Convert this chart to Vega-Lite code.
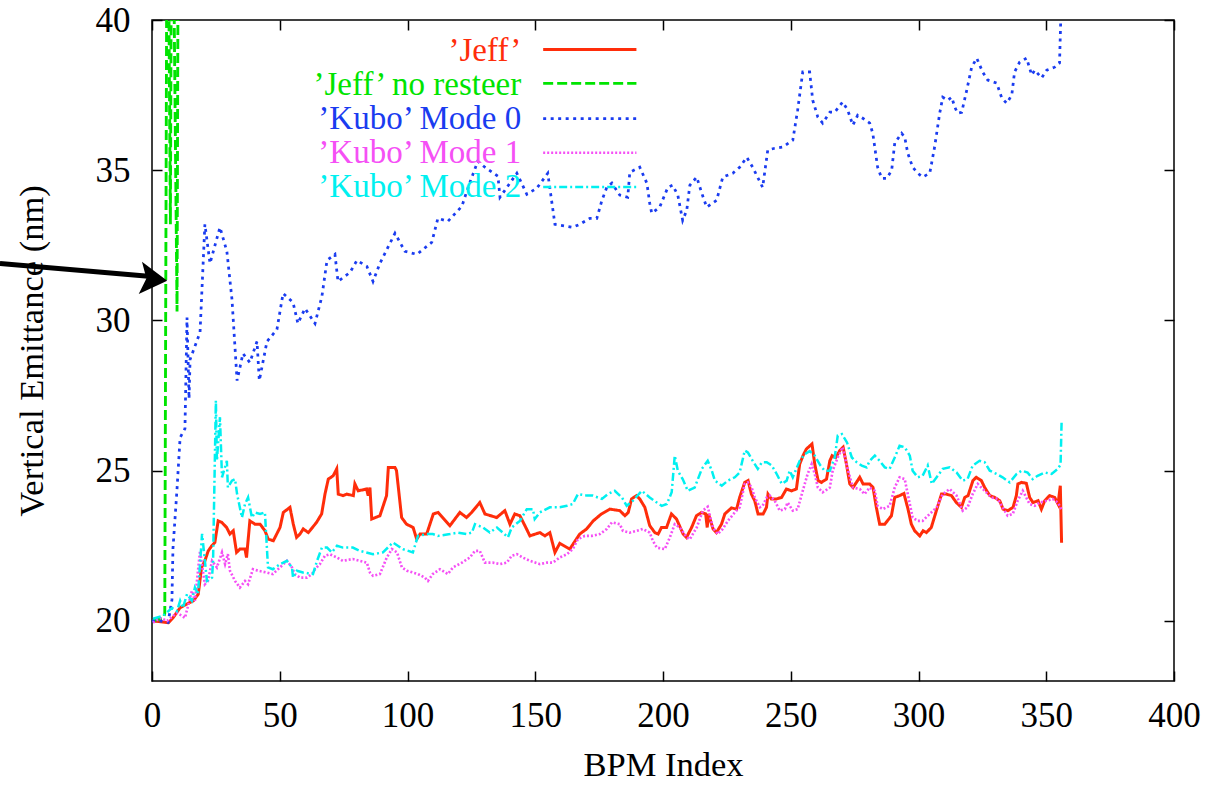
{
  "$schema": "https://vega.github.io/schema/vega-lite/v6.json",
  "width": 1022,
  "height": 661,
  "autosize": {"type": "none"},
  "padding": {"left": 152, "top": 20, "right": 37, "bottom": 104},
  "background": "white",
  "config": {
    "view": {"stroke": "black", "strokeWidth": 1.5},
    "font": "Liberation Serif",
    "axis": {"grid": false, "domain": false, "labelFont": "Liberation Serif", "titleFont": "Liberation Serif", "labelColor": "black", "titleColor": "black", "tickColor": "black", "tickWidth": 1.5, "titleFontWeight": "normal"}
  },
  "datasets": {
    "curves": [
      {"s":"J","x":0.5,"y":20.0},{"s":"J","x":6.4,"y":19.94},{"s":"J","x":8.3,"y":20.11},{"s":"J","x":11.0,"y":20.44},{"s":"J","x":13.6,"y":20.56},{"s":"J","x":16.2,"y":20.67},{"s":"J","x":18.1,"y":20.89},{"s":"J","x":19.4,"y":21.78},{"s":"J","x":20.7,"y":22.0},{"s":"J","x":22.0,"y":22.33},{"s":"J","x":23.4,"y":22.5},{"s":"J","x":24.6,"y":22.61},{"s":"J","x":25.9,"y":23.33},{"s":"J","x":27.3,"y":23.28},{"s":"J","x":29.2,"y":23.11},{"s":"J","x":30.5,"y":22.89},{"s":"J","x":31.8,"y":23.0},{"s":"J","x":33.1,"y":22.28},{"s":"J","x":34.4,"y":22.39},{"s":"J","x":36.4,"y":22.39},{"s":"J","x":37.0,"y":22.11},{"s":"J","x":38.3,"y":23.33},{"s":"J","x":40.3,"y":23.22},{"s":"J","x":42.3,"y":23.22},{"s":"J","x":44.2,"y":23.0},{"s":"J","x":45.5,"y":22.72},{"s":"J","x":47.5,"y":22.67},{"s":"J","x":50.1,"y":23.11},{"s":"J","x":51.4,"y":23.61},{"s":"J","x":54.0,"y":23.78},{"s":"J","x":55.3,"y":23.22},{"s":"J","x":56.6,"y":22.78},{"s":"J","x":57.9,"y":22.89},{"s":"J","x":59.2,"y":23.06},{"s":"J","x":61.2,"y":22.94},{"s":"J","x":64.4,"y":23.28},{"s":"J","x":66.4,"y":23.56},{"s":"J","x":67.7,"y":24.22},{"s":"J","x":69.0,"y":24.72},{"s":"J","x":70.9,"y":24.83},{"s":"J","x":72.3,"y":25.06},{"s":"J","x":72.9,"y":24.22},{"s":"J","x":74.8,"y":24.17},{"s":"J","x":76.2,"y":24.22},{"s":"J","x":78.8,"y":24.17},{"s":"J","x":79.4,"y":24.56},{"s":"J","x":80.7,"y":24.33},{"s":"J","x":84.0,"y":24.39},{"s":"J","x":84.6,"y":24.17},{"s":"J","x":85.3,"y":24.44},{"s":"J","x":86.0,"y":23.39},{"s":"J","x":89.2,"y":23.5},{"s":"J","x":91.8,"y":24.17},{"s":"J","x":92.5,"y":25.11},{"s":"J","x":95.1,"y":25.11},{"s":"J","x":95.7,"y":25.0},{"s":"J","x":97.7,"y":23.44},{"s":"J","x":99.6,"y":23.22},{"s":"J","x":102.2,"y":23.11},{"s":"J","x":103.6,"y":22.72},{"s":"J","x":104.9,"y":22.89},{"s":"J","x":107.5,"y":22.89},{"s":"J","x":110.1,"y":23.56},{"s":"J","x":112.0,"y":23.61},{"s":"J","x":116.6,"y":23.17},{"s":"J","x":120.5,"y":23.61},{"s":"J","x":123.1,"y":23.44},{"s":"J","x":125.1,"y":23.61},{"s":"J","x":128.3,"y":23.94},{"s":"J","x":130.3,"y":23.56},{"s":"J","x":134.9,"y":23.44},{"s":"J","x":138.1,"y":23.67},{"s":"J","x":140.1,"y":23.22},{"s":"J","x":142.0,"y":23.56},{"s":"J","x":144.0,"y":23.5},{"s":"J","x":146.6,"y":23.06},{"s":"J","x":147.9,"y":22.83},{"s":"J","x":151.8,"y":22.94},{"s":"J","x":153.8,"y":22.83},{"s":"J","x":155.7,"y":22.94},{"s":"J","x":157.7,"y":22.28},{"s":"J","x":159.6,"y":22.58},{"s":"J","x":163.5,"y":22.39},{"s":"J","x":167.4,"y":22.89},{"s":"J","x":170.1,"y":23.06},{"s":"J","x":172.7,"y":23.33},{"s":"J","x":175.9,"y":23.56},{"s":"J","x":179.2,"y":23.72},{"s":"J","x":183.1,"y":23.67},{"s":"J","x":185.1,"y":23.5},{"s":"J","x":186.4,"y":23.61},{"s":"J","x":187.7,"y":24.06},{"s":"J","x":189.6,"y":24.17},{"s":"J","x":190.9,"y":24.06},{"s":"J","x":192.9,"y":23.78},{"s":"J","x":194.8,"y":23.17},{"s":"J","x":196.8,"y":22.94},{"s":"J","x":198.1,"y":22.89},{"s":"J","x":199.4,"y":23.11},{"s":"J","x":201.4,"y":23.11},{"s":"J","x":203.3,"y":23.56},{"s":"J","x":205.3,"y":23.39},{"s":"J","x":207.9,"y":22.89},{"s":"J","x":209.2,"y":22.78},{"s":"J","x":211.2,"y":23.11},{"s":"J","x":213.1,"y":23.5},{"s":"J","x":215.1,"y":23.61},{"s":"J","x":216.7,"y":23.56},{"s":"J","x":217.3,"y":23.11},{"s":"J","x":217.8,"y":23.56},{"s":"J","x":219.6,"y":23.06},{"s":"J","x":220.9,"y":22.94},{"s":"J","x":222.9,"y":23.22},{"s":"J","x":224.2,"y":23.56},{"s":"J","x":226.8,"y":23.76},{"s":"J","x":228.8,"y":23.72},{"s":"J","x":230.0,"y":24.11},{"s":"J","x":232.0,"y":24.61},{"s":"J","x":233.3,"y":24.67},{"s":"J","x":234.6,"y":24.22},{"s":"J","x":235.9,"y":24.0},{"s":"J","x":237.2,"y":23.56},{"s":"J","x":239.2,"y":23.56},{"s":"J","x":240.5,"y":23.78},{"s":"J","x":241.1,"y":24.22},{"s":"J","x":242.4,"y":24.06},{"s":"J","x":244.4,"y":24.06},{"s":"J","x":246.4,"y":24.11},{"s":"J","x":248.3,"y":24.39},{"s":"J","x":250.3,"y":24.33},{"s":"J","x":252.2,"y":24.39},{"s":"J","x":253.5,"y":25.22},{"s":"J","x":254.8,"y":25.5},{"s":"J","x":256.1,"y":25.72},{"s":"J","x":258.3,"y":25.89},{"s":"J","x":259.4,"y":25.22},{"s":"J","x":260.7,"y":24.67},{"s":"J","x":262.0,"y":24.61},{"s":"J","x":264.0,"y":24.72},{"s":"J","x":265.3,"y":25.33},{"s":"J","x":266.2,"y":25.5},{"s":"J","x":267.6,"y":25.44},{"s":"J","x":269.2,"y":25.67},{"s":"J","x":270.5,"y":25.78},{"s":"J","x":271.8,"y":25.22},{"s":"J","x":273.1,"y":24.56},{"s":"J","x":274.4,"y":24.44},{"s":"J","x":277.0,"y":24.78},{"s":"J","x":278.3,"y":24.56},{"s":"J","x":280.9,"y":24.56},{"s":"J","x":282.2,"y":24.44},{"s":"J","x":283.5,"y":23.78},{"s":"J","x":284.8,"y":23.22},{"s":"J","x":286.8,"y":23.22},{"s":"J","x":289.4,"y":23.5},{"s":"J","x":290.7,"y":24.11},{"s":"J","x":292.6,"y":24.17},{"s":"J","x":294.3,"y":24.24},{"s":"J","x":295.9,"y":23.72},{"s":"J","x":297.2,"y":23.22},{"s":"J","x":298.5,"y":23.0},{"s":"J","x":300.5,"y":22.83},{"s":"J","x":301.8,"y":23.0},{"s":"J","x":303.1,"y":22.94},{"s":"J","x":305.0,"y":23.11},{"s":"J","x":307.0,"y":23.67},{"s":"J","x":309.0,"y":24.22},{"s":"J","x":310.9,"y":24.22},{"s":"J","x":312.9,"y":24.17},{"s":"J","x":314.8,"y":23.94},{"s":"J","x":316.8,"y":23.78},{"s":"J","x":318.1,"y":24.11},{"s":"J","x":319.4,"y":24.17},{"s":"J","x":321.3,"y":24.67},{"s":"J","x":322.6,"y":24.78},{"s":"J","x":324.6,"y":24.67},{"s":"J","x":325.9,"y":24.44},{"s":"J","x":327.9,"y":24.17},{"s":"J","x":329.8,"y":24.11},{"s":"J","x":331.8,"y":24.0},{"s":"J","x":333.1,"y":23.72},{"s":"J","x":335.0,"y":23.67},{"s":"J","x":337.0,"y":23.78},{"s":"J","x":338.3,"y":24.17},{"s":"J","x":338.9,"y":24.56},{"s":"J","x":340.3,"y":24.61},{"s":"J","x":342.2,"y":24.58},{"s":"J","x":343.5,"y":24.11},{"s":"J","x":344.8,"y":23.94},{"s":"J","x":346.8,"y":24.0},{"s":"J","x":348.1,"y":23.72},{"s":"J","x":349.4,"y":24.0},{"s":"J","x":351.3,"y":24.17},{"s":"J","x":353.3,"y":24.11},{"s":"J","x":354.6,"y":23.89},{"s":"J","x":355.5,"y":24.5},{"s":"J","x":356.0,"y":22.6},
      {"s":"G","x":0.0,"y":20.0},{"s":"G","x":2.5,"y":20.05},{"s":"G","x":4.5,"y":20.1},{"s":"G","x":5.0,"y":20.25},{"s":"G","x":6.0,"y":48},{"s":"G","x":7.2,"y":33.2},{"s":"G","x":7.8,"y":48},{"s":"G","x":9.8,"y":30.3},{"s":"G","x":10.4,"y":48},
      {"s":"M0","x":0.0,"y":20.0},{"s":"M0","x":3.1,"y":20.0},{"s":"M0","x":6.3,"y":19.95},{"s":"M0","x":7.8,"y":20.7},{"s":"M0","x":8.2,"y":22.4},{"s":"M0","x":9.8,"y":24.4},{"s":"M0","x":11.0,"y":26.1},{"s":"M0","x":12.9,"y":26.4},{"s":"M0","x":13.7,"y":30.1},{"s":"M0","x":14.5,"y":27.4},{"s":"M0","x":14.9,"y":28.7},{"s":"M0","x":18.8,"y":29.6},{"s":"M0","x":20.7,"y":33.2},{"s":"M0","x":22.7,"y":31.9},{"s":"M0","x":26.6,"y":33.1},{"s":"M0","x":29.3,"y":32.3},{"s":"M0","x":31.3,"y":30.7},{"s":"M0","x":33.3,"y":28.0},{"s":"M0","x":35.6,"y":28.9},{"s":"M0","x":38.3,"y":28.6},{"s":"M0","x":41.1,"y":29.3},{"s":"M0","x":42.0,"y":28.0},{"s":"M0","x":45.0,"y":29.3},{"s":"M0","x":48.9,"y":29.7},{"s":"M0","x":51.3,"y":30.9},{"s":"M0","x":55.2,"y":30.6},{"s":"M0","x":57.1,"y":29.9},{"s":"M0","x":59.9,"y":30.4},{"s":"M0","x":63.8,"y":29.9},{"s":"M0","x":66.5,"y":30.8},{"s":"M0","x":68.5,"y":32.0},{"s":"M0","x":71.6,"y":32.2},{"s":"M0","x":72.8,"y":31.3},{"s":"M0","x":77.5,"y":31.6},{"s":"M0","x":80.2,"y":32.0},{"s":"M0","x":84.1,"y":31.8},{"s":"M0","x":86.5,"y":31.3},{"s":"M0","x":89.2,"y":31.9},{"s":"M0","x":95.1,"y":32.9},{"s":"M0","x":99.0,"y":32.3},{"s":"M0","x":103.7,"y":32.2},{"s":"M0","x":109.5,"y":32.6},{"s":"M0","x":111.9,"y":33.4},{"s":"M0","x":115.8,"y":33.3},{"s":"M0","x":121.3,"y":33.8},{"s":"M0","x":123.6,"y":34.4},{"s":"M0","x":127.5,"y":35.3},{"s":"M0","x":130.3,"y":35.1},{"s":"M0","x":135.4,"y":34.8},{"s":"M0","x":136.2,"y":34.1},{"s":"M0","x":142.8,"y":34.9},{"s":"M0","x":146.7,"y":34.2},{"s":"M0","x":150.6,"y":34.4},{"s":"M0","x":154.9,"y":34.9},{"s":"M0","x":157.7,"y":33.2},{"s":"M0","x":164.7,"y":33.1},{"s":"M0","x":167.4,"y":33.2},{"s":"M0","x":171.4,"y":33.4},{"s":"M0","x":174.1,"y":33.4},{"s":"M0","x":176.1,"y":34.0},{"s":"M0","x":178.0,"y":34.43},{"s":"M0","x":180.0,"y":34.57},{"s":"M0","x":183.1,"y":34.17},{"s":"M0","x":186.2,"y":34.1},{"s":"M0","x":187.0,"y":34.93},{"s":"M0","x":190.9,"y":35.1},{"s":"M0","x":193.7,"y":34.57},{"s":"M0","x":194.8,"y":33.9},{"s":"M0","x":195.6,"y":33.57},{"s":"M0","x":198.7,"y":33.77},{"s":"M0","x":201.9,"y":34.43},{"s":"M0","x":203.8,"y":34.5},{"s":"M0","x":205.8,"y":34.17},{"s":"M0","x":207.7,"y":33.33},{"s":"M0","x":209.3,"y":33.67},{"s":"M0","x":210.5,"y":34.5},{"s":"M0","x":213.2,"y":34.77},{"s":"M0","x":215.2,"y":34.23},{"s":"M0","x":217.1,"y":33.77},{"s":"M0","x":221.0,"y":34.0},{"s":"M0","x":223.4,"y":34.77},{"s":"M0","x":227.3,"y":34.9},{"s":"M0","x":230.0,"y":35.1},{"s":"M0","x":232.8,"y":35.43},{"s":"M0","x":235.1,"y":35.1},{"s":"M0","x":239.0,"y":34.43},{"s":"M0","x":241.0,"y":35.67},{"s":"M0","x":243.7,"y":35.73},{"s":"M0","x":246.9,"y":35.77},{"s":"M0","x":250.8,"y":36.0},{"s":"M0","x":252.7,"y":37.0},{"s":"M0","x":254.7,"y":38.27},{"s":"M0","x":257.4,"y":38.27},{"s":"M0","x":258.6,"y":37.33},{"s":"M0","x":260.6,"y":36.77},{"s":"M0","x":262.5,"y":36.57},{"s":"M0","x":265.3,"y":36.93},{"s":"M0","x":267.2,"y":36.93},{"s":"M0","x":270.3,"y":37.27},{"s":"M0","x":272.3,"y":37.0},{"s":"M0","x":274.3,"y":36.5},{"s":"M0","x":276.2,"y":36.83},{"s":"M0","x":278.2,"y":36.73},{"s":"M0","x":280.9,"y":36.57},{"s":"M0","x":282.1,"y":36.23},{"s":"M0","x":284.0,"y":35.1},{"s":"M0","x":285.6,"y":34.73},{"s":"M0","x":287.6,"y":34.73},{"s":"M0","x":289.5,"y":35.0},{"s":"M0","x":290.7,"y":35.9},{"s":"M0","x":293.4,"y":36.23},{"s":"M0","x":294.6,"y":36.1},{"s":"M0","x":295.8,"y":35.57},{"s":"M0","x":297.7,"y":35.1},{"s":"M0","x":299.7,"y":34.9},{"s":"M0","x":301.6,"y":34.77},{"s":"M0","x":304.4,"y":34.9},{"s":"M0","x":306.3,"y":35.77},{"s":"M0","x":308.3,"y":36.9},{"s":"M0","x":309.5,"y":37.43},{"s":"M0","x":311.4,"y":37.33},{"s":"M0","x":313.0,"y":37.43},{"s":"M0","x":314.2,"y":37.1},{"s":"M0","x":315.3,"y":36.9},{"s":"M0","x":316.9,"y":36.93},{"s":"M0","x":318.9,"y":37.67},{"s":"M0","x":320.8,"y":38.43},{"s":"M0","x":322.8,"y":38.73},{"s":"M0","x":325.1,"y":38.27},{"s":"M0","x":327.1,"y":38.0},{"s":"M0","x":330.6,"y":37.9},{"s":"M0","x":332.6,"y":37.4},{"s":"M0","x":334.5,"y":37.23},{"s":"M0","x":336.5,"y":37.5},{"s":"M0","x":337.6,"y":38.27},{"s":"M0","x":339.6,"y":38.6},{"s":"M0","x":342.3,"y":38.73},{"s":"M0","x":344.3,"y":38.17},{"s":"M0","x":345.5,"y":38.33},{"s":"M0","x":348.2,"y":38.07},{"s":"M0","x":350.2,"y":38.33},{"s":"M0","x":353.3,"y":38.43},{"s":"M0","x":355.2,"y":38.57},{"s":"M0","x":356.0,"y":41.0},
      {"s":"M1","x":0.4,"y":19.94},{"s":"M1","x":3.1,"y":20.1},{"s":"M1","x":5.9,"y":20.0},{"s":"M1","x":9.8,"y":20.27},{"s":"M1","x":12.9,"y":20.1},{"s":"M1","x":15.6,"y":21.0},{"s":"M1","x":16.8,"y":20.67},{"s":"M1","x":18.8,"y":22.33},{"s":"M1","x":20.7,"y":21.22},{"s":"M1","x":21.9,"y":21.33},{"s":"M1","x":23.5,"y":22.0},{"s":"M1","x":25.4,"y":21.78},{"s":"M1","x":27.4,"y":22.28},{"s":"M1","x":28.6,"y":21.89},{"s":"M1","x":29.7,"y":22.22},{"s":"M1","x":30.5,"y":21.67},{"s":"M1","x":32.5,"y":21.33},{"s":"M1","x":34.4,"y":21.11},{"s":"M1","x":36.4,"y":21.33},{"s":"M1","x":37.6,"y":21.22},{"s":"M1","x":39.5,"y":21.72},{"s":"M1","x":41.5,"y":21.67},{"s":"M1","x":45.0,"y":21.61},{"s":"M1","x":47.3,"y":21.56},{"s":"M1","x":50.1,"y":21.78},{"s":"M1","x":52.8,"y":22.0},{"s":"M1","x":54.8,"y":21.78},{"s":"M1","x":55.9,"y":21.56},{"s":"M1","x":57.9,"y":21.44},{"s":"M1","x":60.6,"y":21.44},{"s":"M1","x":62.6,"y":21.56},{"s":"M1","x":63.8,"y":21.72},{"s":"M1","x":65.7,"y":21.89},{"s":"M1","x":67.7,"y":22.17},{"s":"M1","x":69.6,"y":22.22},{"s":"M1","x":72.4,"y":22.11},{"s":"M1","x":74.7,"y":22.0},{"s":"M1","x":78.6,"y":22.06},{"s":"M1","x":81.4,"y":22.0},{"s":"M1","x":84.1,"y":21.94},{"s":"M1","x":85.3,"y":21.61},{"s":"M1","x":86.5,"y":21.5},{"s":"M1","x":89.2,"y":21.56},{"s":"M1","x":91.9,"y":22.11},{"s":"M1","x":93.9,"y":22.39},{"s":"M1","x":95.9,"y":22.28},{"s":"M1","x":97.8,"y":21.78},{"s":"M1","x":99.8,"y":21.67},{"s":"M1","x":102.1,"y":21.61},{"s":"M1","x":104.1,"y":21.56},{"s":"M1","x":106.8,"y":21.44},{"s":"M1","x":108.0,"y":21.33},{"s":"M1","x":109.9,"y":21.56},{"s":"M1","x":112.7,"y":21.72},{"s":"M1","x":115.8,"y":21.56},{"s":"M1","x":117.8,"y":21.78},{"s":"M1","x":121.3,"y":21.94},{"s":"M1","x":124.4,"y":22.11},{"s":"M1","x":126.4,"y":22.33},{"s":"M1","x":128.3,"y":22.33},{"s":"M1","x":130.3,"y":21.94},{"s":"M1","x":133.4,"y":21.94},{"s":"M1","x":136.2,"y":21.89},{"s":"M1","x":138.9,"y":21.94},{"s":"M1","x":140.8,"y":22.17},{"s":"M1","x":142.8,"y":22.22},{"s":"M1","x":145.1,"y":22.11},{"s":"M1","x":147.9,"y":22.0},{"s":"M1","x":151.8,"y":21.89},{"s":"M1","x":154.5,"y":21.94},{"s":"M1","x":156.9,"y":21.94},{"s":"M1","x":159.6,"y":22.11},{"s":"M1","x":162.4,"y":22.22},{"s":"M1","x":164.7,"y":22.39},{"s":"M1","x":166.7,"y":22.72},{"s":"M1","x":169.4,"y":22.83},{"s":"M1","x":172.1,"y":22.83},{"s":"M1","x":175.3,"y":22.89},{"s":"M1","x":178.0,"y":23.06},{"s":"M1","x":180.0,"y":23.28},{"s":"M1","x":183.1,"y":23.22},{"s":"M1","x":184.3,"y":23.0},{"s":"M1","x":187.0,"y":22.94},{"s":"M1","x":189.8,"y":23.0},{"s":"M1","x":192.1,"y":23.06},{"s":"M1","x":194.8,"y":22.94},{"s":"M1","x":196.0,"y":22.67},{"s":"M1","x":197.6,"y":22.44},{"s":"M1","x":200.7,"y":22.39},{"s":"M1","x":202.7,"y":22.78},{"s":"M1","x":204.6,"y":23.22},{"s":"M1","x":206.6,"y":23.11},{"s":"M1","x":209.3,"y":22.78},{"s":"M1","x":210.5,"y":22.72},{"s":"M1","x":213.2,"y":23.11},{"s":"M1","x":215.6,"y":23.67},{"s":"M1","x":217.5,"y":23.8},{"s":"M1","x":219.5,"y":23.11},{"s":"M1","x":221.4,"y":22.89},{"s":"M1","x":223.4,"y":23.06},{"s":"M1","x":225.4,"y":23.33},{"s":"M1","x":228.1,"y":23.61},{"s":"M1","x":230.0,"y":23.78},{"s":"M1","x":232.0,"y":24.56},{"s":"M1","x":233.2,"y":24.61},{"s":"M1","x":234.7,"y":24.44},{"s":"M1","x":235.9,"y":24.11},{"s":"M1","x":237.9,"y":23.78},{"s":"M1","x":239.0,"y":23.83},{"s":"M1","x":240.6,"y":24.11},{"s":"M1","x":241.8,"y":24.17},{"s":"M1","x":243.7,"y":24.0},{"s":"M1","x":245.7,"y":23.67},{"s":"M1","x":247.7,"y":23.72},{"s":"M1","x":248.8,"y":23.94},{"s":"M1","x":250.8,"y":23.67},{"s":"M1","x":252.7,"y":23.72},{"s":"M1","x":254.7,"y":24.33},{"s":"M1","x":256.6,"y":24.89},{"s":"M1","x":258.2,"y":25.22},{"s":"M1","x":259.4,"y":24.89},{"s":"M1","x":260.6,"y":24.44},{"s":"M1","x":262.5,"y":24.28},{"s":"M1","x":265.3,"y":24.44},{"s":"M1","x":266.4,"y":25.0},{"s":"M1","x":268.4,"y":25.44},{"s":"M1","x":270.3,"y":25.78},{"s":"M1","x":272.1,"y":25.11},{"s":"M1","x":274.3,"y":24.44},{"s":"M1","x":277.0,"y":24.39},{"s":"M1","x":278.9,"y":24.22},{"s":"M1","x":280.9,"y":24.44},{"s":"M1","x":282.9,"y":24.33},{"s":"M1","x":284.0,"y":23.83},{"s":"M1","x":286.0,"y":23.72},{"s":"M1","x":288.7,"y":23.83},{"s":"M1","x":290.7,"y":24.44},{"s":"M1","x":292.6,"y":24.78},{"s":"M1","x":294.6,"y":24.72},{"s":"M1","x":295.8,"y":24.22},{"s":"M1","x":297.7,"y":23.44},{"s":"M1","x":299.7,"y":23.33},{"s":"M1","x":301.6,"y":23.33},{"s":"M1","x":304.4,"y":23.56},{"s":"M1","x":307.1,"y":23.78},{"s":"M1","x":309.5,"y":24.22},{"s":"M1","x":312.2,"y":24.39},{"s":"M1","x":314.9,"y":24.17},{"s":"M1","x":317.3,"y":23.67},{"s":"M1","x":319.2,"y":23.78},{"s":"M1","x":321.2,"y":24.22},{"s":"M1","x":323.2,"y":24.56},{"s":"M1","x":325.9,"y":24.33},{"s":"M1","x":328.6,"y":24.11},{"s":"M1","x":331.0,"y":24.06},{"s":"M1","x":332.9,"y":23.78},{"s":"M1","x":334.9,"y":23.5},{"s":"M1","x":336.9,"y":23.56},{"s":"M1","x":338.8,"y":24.0},{"s":"M1","x":340.8,"y":24.33},{"s":"M1","x":343.5,"y":23.89},{"s":"M1","x":345.5,"y":23.83},{"s":"M1","x":347.4,"y":23.94},{"s":"M1","x":350.2,"y":24.0},{"s":"M1","x":352.5,"y":24.06},{"s":"M1","x":354.5,"y":23.94},{"s":"M1","x":356.0,"y":23.7},
      {"s":"M2","x":0.4,"y":20.07},{"s":"M2","x":4.3,"y":20.17},{"s":"M2","x":7.8,"y":20.43},{"s":"M2","x":9.8,"y":20.33},{"s":"M2","x":11.0,"y":20.67},{"s":"M2","x":12.1,"y":20.43},{"s":"M2","x":13.7,"y":20.89},{"s":"M2","x":15.6,"y":20.67},{"s":"M2","x":16.8,"y":21.11},{"s":"M2","x":18.0,"y":20.89},{"s":"M2","x":19.6,"y":22.9},{"s":"M2","x":20.7,"y":22.0},{"s":"M2","x":21.5,"y":21.33},{"s":"M2","x":23.5,"y":21.44},{"s":"M2","x":23.9,"y":22.0},{"s":"M2","x":25.0,"y":27.33},{"s":"M2","x":25.4,"y":25.33},{"s":"M2","x":26.6,"y":26.78},{"s":"M2","x":27.4,"y":24.78},{"s":"M2","x":29.3,"y":25.33},{"s":"M2","x":29.7,"y":24.44},{"s":"M2","x":31.3,"y":24.67},{"s":"M2","x":32.5,"y":24.72},{"s":"M2","x":33.3,"y":24.22},{"s":"M2","x":35.2,"y":23.44},{"s":"M2","x":36.4,"y":23.89},{"s":"M2","x":37.6,"y":24.11},{"s":"M2","x":39.1,"y":23.44},{"s":"M2","x":40.3,"y":23.61},{"s":"M2","x":42.3,"y":23.56},{"s":"M2","x":44.2,"y":23.61},{"s":"M2","x":45.4,"y":21.78},{"s":"M2","x":47.3,"y":21.72},{"s":"M2","x":50.1,"y":21.89},{"s":"M2","x":52.8,"y":22.0},{"s":"M2","x":54.8,"y":21.78},{"s":"M2","x":55.2,"y":21.44},{"s":"M2","x":56.7,"y":21.67},{"s":"M2","x":59.1,"y":21.61},{"s":"M2","x":63.0,"y":21.56},{"s":"M2","x":64.6,"y":22.0},{"s":"M2","x":66.5,"y":22.44},{"s":"M2","x":68.5,"y":22.44},{"s":"M2","x":70.4,"y":22.28},{"s":"M2","x":72.4,"y":22.5},{"s":"M2","x":74.7,"y":22.44},{"s":"M2","x":78.6,"y":22.44},{"s":"M2","x":81.4,"y":22.33},{"s":"M2","x":86.5,"y":22.22},{"s":"M2","x":90.4,"y":22.28},{"s":"M2","x":94.3,"y":22.61},{"s":"M2","x":98.2,"y":22.39},{"s":"M2","x":102.1,"y":22.28},{"s":"M2","x":104.1,"y":22.83},{"s":"M2","x":107.6,"y":22.89},{"s":"M2","x":109.9,"y":22.89},{"s":"M2","x":111.9,"y":22.83},{"s":"M2","x":116.6,"y":22.89},{"s":"M2","x":119.7,"y":22.94},{"s":"M2","x":123.2,"y":22.89},{"s":"M2","x":125.2,"y":22.94},{"s":"M2","x":126.4,"y":23.22},{"s":"M2","x":129.5,"y":23.11},{"s":"M2","x":132.2,"y":22.94},{"s":"M2","x":135.0,"y":23.11},{"s":"M2","x":137.3,"y":22.94},{"s":"M2","x":139.3,"y":22.78},{"s":"M2","x":140.8,"y":23.11},{"s":"M2","x":144.0,"y":23.33},{"s":"M2","x":146.7,"y":23.72},{"s":"M2","x":149.1,"y":23.72},{"s":"M2","x":149.8,"y":23.39},{"s":"M2","x":151.8,"y":23.61},{"s":"M2","x":155.7,"y":23.78},{"s":"M2","x":159.6,"y":23.78},{"s":"M2","x":162.4,"y":23.83},{"s":"M2","x":164.7,"y":23.89},{"s":"M2","x":166.7,"y":24.22},{"s":"M2","x":170.2,"y":24.17},{"s":"M2","x":172.5,"y":24.17},{"s":"M2","x":176.1,"y":24.06},{"s":"M2","x":178.4,"y":24.22},{"s":"M2","x":181.1,"y":24.33},{"s":"M2","x":183.9,"y":24.11},{"s":"M2","x":185.8,"y":23.83},{"s":"M2","x":188.2,"y":24.0},{"s":"M2","x":191.7,"y":24.33},{"s":"M2","x":194.8,"y":24.11},{"s":"M2","x":197.6,"y":23.94},{"s":"M2","x":199.5,"y":23.83},{"s":"M2","x":201.5,"y":23.89},{"s":"M2","x":203.4,"y":24.28},{"s":"M2","x":204.6,"y":25.5},{"s":"M2","x":205.8,"y":25.0},{"s":"M2","x":207.7,"y":24.72},{"s":"M2","x":209.7,"y":24.33},{"s":"M2","x":212.4,"y":24.44},{"s":"M2","x":215.2,"y":25.06},{"s":"M2","x":217.5,"y":25.33},{"s":"M2","x":219.1,"y":25.0},{"s":"M2","x":220.3,"y":24.67},{"s":"M2","x":223.0,"y":24.5},{"s":"M2","x":225.4,"y":24.67},{"s":"M2","x":228.1,"y":24.78},{"s":"M2","x":230.0,"y":24.94},{"s":"M2","x":232.0,"y":25.67},{"s":"M2","x":233.2,"y":25.61},{"s":"M2","x":235.1,"y":25.33},{"s":"M2","x":237.1,"y":25.06},{"s":"M2","x":238.7,"y":25.28},{"s":"M2","x":240.6,"y":25.28},{"s":"M2","x":242.6,"y":25.17},{"s":"M2","x":244.5,"y":24.89},{"s":"M2","x":246.5,"y":24.56},{"s":"M2","x":248.4,"y":24.67},{"s":"M2","x":249.6,"y":25.0},{"s":"M2","x":250.8,"y":24.78},{"s":"M2","x":253.5,"y":25.33},{"s":"M2","x":255.5,"y":25.55},{"s":"M2","x":257.4,"y":25.65},{"s":"M2","x":259.4,"y":25.5},{"s":"M2","x":261.4,"y":25.2},{"s":"M2","x":263.2,"y":25.0},{"s":"M2","x":265.3,"y":25.0},{"s":"M2","x":267.2,"y":25.44},{"s":"M2","x":268.4,"y":26.17},{"s":"M2","x":270.0,"y":26.22},{"s":"M2","x":272.0,"y":25.94},{"s":"M2","x":273.9,"y":25.44},{"s":"M2","x":275.8,"y":25.28},{"s":"M2","x":277.8,"y":25.17},{"s":"M2","x":279.7,"y":25.11},{"s":"M2","x":280.9,"y":25.33},{"s":"M2","x":282.9,"y":25.5},{"s":"M2","x":284.8,"y":25.33},{"s":"M2","x":286.8,"y":25.11},{"s":"M2","x":288.7,"y":25.06},{"s":"M2","x":290.7,"y":25.44},{"s":"M2","x":292.6,"y":25.83},{"s":"M2","x":294.6,"y":25.78},{"s":"M2","x":296.6,"y":25.5},{"s":"M2","x":297.7,"y":25.0},{"s":"M2","x":299.7,"y":24.78},{"s":"M2","x":301.6,"y":24.83},{"s":"M2","x":303.6,"y":25.17},{"s":"M2","x":305.2,"y":24.56},{"s":"M2","x":307.1,"y":24.78},{"s":"M2","x":309.5,"y":25.06},{"s":"M2","x":312.2,"y":25.11},{"s":"M2","x":314.9,"y":24.94},{"s":"M2","x":317.3,"y":24.67},{"s":"M2","x":319.2,"y":24.72},{"s":"M2","x":321.2,"y":25.17},{"s":"M2","x":323.9,"y":25.33},{"s":"M2","x":325.9,"y":25.28},{"s":"M2","x":327.9,"y":25.0},{"s":"M2","x":330.6,"y":24.89},{"s":"M2","x":332.9,"y":24.78},{"s":"M2","x":335.7,"y":24.61},{"s":"M2","x":338.4,"y":24.89},{"s":"M2","x":340.4,"y":25.0},{"s":"M2","x":342.7,"y":24.94},{"s":"M2","x":344.7,"y":24.72},{"s":"M2","x":346.6,"y":24.83},{"s":"M2","x":349.4,"y":24.94},{"s":"M2","x":352.1,"y":24.89},{"s":"M2","x":354.5,"y":25.06},{"s":"M2","x":355.6,"y":25.2},{"s":"M2","x":356.0,"y":26.6}
    ],
    "legend": [
      {"s":"J","label":"’Jeff’","tx":144.5,"ty":38.63,"lx1":153.1,"lx2":189.6,"ly":39.02},
      {"s":"G","label":"’Jeff’ no resteer","tx":144.5,"ty":37.52,"lx1":153.1,"lx2":189.6,"ly":37.89},
      {"s":"M0","label":"’Kubo’ Mode 0","tx":144.5,"ty":36.38,"lx1":153.1,"lx2":189.6,"ly":36.72},
      {"s":"M1","label":"’Kubo’ Mode 1","tx":144.5,"ty":35.24,"lx1":153.1,"lx2":189.6,"ly":35.58},
      {"s":"M2","label":"’Kubo’ Mode 2","tx":144.5,"ty":34.11,"lx1":153.1,"lx2":189.6,"ly":34.44}
    ],
    "arrow": [{"x":-59.5,"y":31.9,"x2":2.0,"y2":31.45}],
    "arrowhead": [{"x":0.7,"y":31.37}]
  },
  "resolve": {"axis": {"x": "independent", "y": "independent"}},
  "layer": [
    {
      "data": {"name": "curves"},
      "mark": {"type": "line", "clip": true, "strokeCap": "butt", "strokeJoin": "miter"},
      "encoding": {
        "x": {"field": "x", "type": "quantitative", "scale": {"domain": [0, 400], "nice": false, "zero": false},
              "axis": {"orient": "bottom", "values": [0,50,100,150,200,250,300,350,400], "tickSize": -10, "labelFontSize": 35, "labelPadding": 27, "labelFlush": false, "labelOverlap": false, "title": "BPM Index", "titleFontSize": 34.5, "titlePadding": 15}},
        "y": {"field": "y", "type": "quantitative", "scale": {"domain": [18, 40], "nice": false, "zero": false},
              "axis": {"orient": "left", "values": [20,25,30,35,40], "tickSize": -10, "labelFontSize": 35, "labelPadding": 32, "labelFlush": false, "labelOverlap": false, "title": "Vertical Emittance (nm)", "titleFontSize": 34.5, "titlePadding": 46}},
        "color": {"field": "s", "type": "nominal", "scale": {"domain": ["J","G","M0","M1","M2"], "range": ["#ff2d0a","#00e400","#1a3cf0","#f550f5","#00f0f0"]}, "legend": null},
        "strokeDash": {"field": "s", "type": "nominal", "scale": {"domain": ["J","G","M0","M1","M2"], "range": [[1,0],[10,4],[3,4.5],[2,2],[8,3,2,3]]}, "legend": null},
        "strokeWidth": {"field": "s", "type": "nominal", "scale": {"domain": ["J","G","M0","M1","M2"], "range": [3,2.5,2.8,2.2,3]}, "legend": null},
        "order": {"field": "x", "type": "quantitative"}
      }
    },
    {
      "data": {"name": "legend"},
      "mark": {"type": "rule", "clip": false, "strokeCap": "butt"},
      "encoding": {
        "x": {"field": "lx1", "type": "quantitative", "scale": {"domain": [0, 400], "nice": false, "zero": false},
              "axis": {"orient": "top", "values": [0,50,100,150,200,250,300,350,400], "tickSize": -10, "labels": false, "title": null}},
        "x2": {"field": "lx2"},
        "y": {"field": "ly", "type": "quantitative", "scale": {"domain": [18, 40], "nice": false, "zero": false},
              "axis": {"orient": "right", "values": [20,25,30,35,40], "tickSize": -10, "labels": false, "title": null}},
        "color": {"field": "s", "type": "nominal", "scale": {"domain": ["J","G","M0","M1","M2"], "range": ["#ff2d0a","#00e400","#1a3cf0","#f550f5","#00f0f0"]}, "legend": null},
        "strokeDash": {"field": "s", "type": "nominal", "scale": {"domain": ["J","G","M0","M1","M2"], "range": [[1,0],[10,4],[3,4.5],[2,2],[8,3,2,3]]}, "legend": null},
        "strokeWidth": {"field": "s", "type": "nominal", "scale": {"domain": ["J","G","M0","M1","M2"], "range": [3,2.5,2.8,2.2,3]}, "legend": null}
      }
    },
    {
      "data": {"name": "legend"},
      "mark": {"type": "text", "align": "right", "baseline": "alphabetic", "font": "Liberation Serif", "fontSize": 33, "clip": false},
      "encoding": {
        "x": {"field": "tx", "type": "quantitative", "scale": {"domain": [0, 400], "nice": false, "zero": false}, "axis": null},
        "y": {"field": "ty", "type": "quantitative", "scale": {"domain": [18, 40], "nice": false, "zero": false}, "axis": null},
        "text": {"field": "label"},
        "color": {"field": "s", "type": "nominal", "scale": {"domain": ["J","G","M0","M1","M2"], "range": ["#ff2d0a","#00e400","#1a3cf0","#f550f5","#00f0f0"]}, "legend": null}
      }
    },
    {
      "data": {"name": "arrow"},
      "mark": {"type": "rule", "clip": false, "color": "black", "strokeWidth": 5},
      "encoding": {
        "x": {"field": "x", "type": "quantitative", "scale": {"domain": [0, 400], "nice": false, "zero": false}, "axis": null},
        "y": {"field": "y", "type": "quantitative", "scale": {"domain": [18, 40], "nice": false, "zero": false}, "axis": null},
        "x2": {"field": "x2"},
        "y2": {"field": "y2"}
      }
    },
    {
      "data": {"name": "arrowhead"},
      "mark": {"type": "point", "clip": false, "filled": true, "color": "black", "opacity": 1, "strokeWidth": 0, "shape": "M-1,-1.2L1,0L-1,1.2L-0.55,0Z", "size": 729, "angle": 5.8},
      "encoding": {
        "x": {"field": "x", "type": "quantitative", "scale": {"domain": [0, 400], "nice": false, "zero": false}, "axis": null},
        "y": {"field": "y", "type": "quantitative", "scale": {"domain": [18, 40], "nice": false, "zero": false}, "axis": null}
      }
    }
  ]
}
